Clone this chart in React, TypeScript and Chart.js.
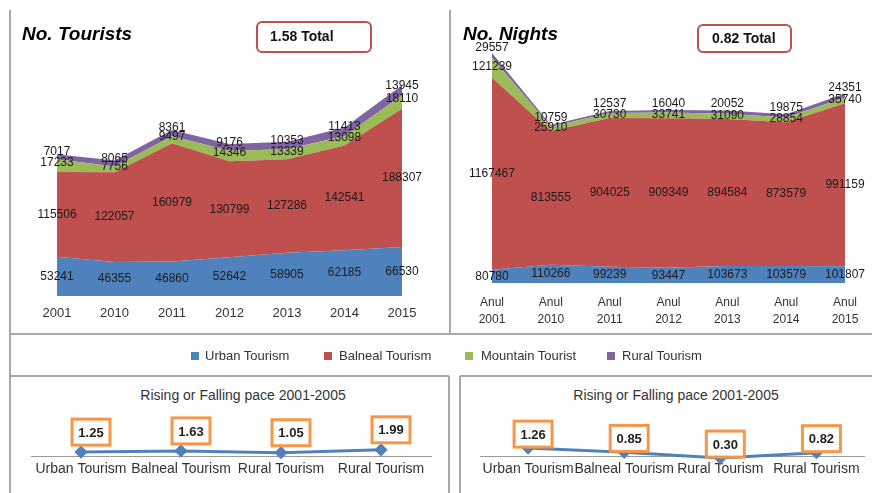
import React, { useEffect, useRef } from 'react';
import { Chart, registerables } from 'chart.js';

Chart.register(...registerables);
Chart.defaults.font.family = '"Liberation Sans", Arial, sans-serif';

// ---------- data ----------
const tourYears = ['2001', '2010', '2011', '2012', '2013', '2014', '2015'];
const nightYears = [
  ['Anul', '2001'], ['Anul', '2010'], ['Anul', '2011'], ['Anul', '2012'],
  ['Anul', '2013'], ['Anul', '2014'], ['Anul', '2015'],
];
const seriesNames = ['Urban Tourism', 'Balneal Tourism', 'Mountain Tourist', 'Rural Tourism'];

const touristsUrban = [53241, 46355, 46860, 52642, 58905, 62185, 66530];
const touristsBalneal = [115506, 122057, 160979, 130799, 127286, 142541, 188307];
const touristsMountain = [17233, 7756, 9497, 14346, 13339, 13098, 18110];
const touristsRural = [7017, 8065, 8361, 9176, 10353, 11413, 13945];

const nightsUrban = [80780, 110266, 99239, 93447, 103673, 103579, 101807];
const nightsBalneal = [1167467, 813555, 904025, 909349, 894584, 873579, 991159];
const nightsMountain = [121239, 25910, 30730, 33741, 31090, 28854, 35740];
const nightsRural = [29557, 10759, 12537, 16040, 20052, 19875, 24351];

const paceCategories = ['Urban Tourism', 'Balneal Tourism', 'Rural Tourism', 'Rural Tourism'];
const paceTourists = [1.25, 1.63, 1.05, 1.99];
const paceNights = [1.26, 0.85, 0.30, 0.82];

const touristsTitle = 'No. Tourists';
const nightsTitle = 'No. Nights';
const touristsTotal = '1.58 Total';
const nightsTotal = '0.82 Total';
const paceTitle = 'Rising or Falling pace 2001-2005';

// ---------- styles ----------
const colors = ['#4F81BD', '#C0504D', '#9BBB59', '#8064A2'];
const FONT = '"Liberation Sans", Arial, sans-serif';
const lineColor = '#a8a8a8';

function segmentLabels(offsets: number[]) {
  return {
    id: 'segLabels',
    afterDatasetsDraw(chart: any) {
      const ctx = chart.ctx;
      const base = chart.scales.y.getPixelForValue(0);
      ctx.save();
      ctx.font = '12px ' + FONT;
      ctx.fillStyle = '#1a1a1a';
      ctx.textAlign = 'center';
      ctx.textBaseline = 'middle';
      chart.data.datasets.forEach((ds: any, i: number) => {
        const meta = chart.getDatasetMeta(i);
        const prev = i > 0 ? chart.getDatasetMeta(i - 1) : null;
        meta.data.forEach((pt: any, j: number) => {
          const bottom = prev ? prev.data[j].y : base;
          const y = (pt.y + bottom) / 2 + offsets[i];
          ctx.fillText(String(ds.data[j]), pt.x, y);
        });
      });
      ctx.restore();
    },
  };
}

function boxLabels(dx: number, dy: number) {
  return {
    id: 'boxLabels',
    afterDatasetsDraw(chart: any) {
      const ctx = chart.ctx;
      ctx.save();
      chart.data.datasets.forEach((ds: any, i: number) => {
        const meta = chart.getDatasetMeta(i);
        meta.data.forEach((pt: any, j: number) => {
          const w = 38, h = 26;
          const cx = pt.x + dx, cy = pt.y + dy;
          ctx.fillStyle = '#ffffff';
          ctx.fillRect(cx - w / 2, cy - h / 2, w, h);
          ctx.strokeStyle = '#F79646';
          ctx.lineWidth = 3;
          ctx.strokeRect(cx - w / 2, cy - h / 2, w, h);
          ctx.fillStyle = '#222';
          ctx.font = 'bold 13px ' + FONT;
          ctx.textAlign = 'center';
          ctx.textBaseline = 'middle';
          ctx.fillText(Number(ds.data[j]).toFixed(2), cx, cy + 1);
        });
      });
      ctx.restore();
    },
  };
}

function areaConfig(labels: any[], series: number[][], max: number, padding: any, tickFont: any, tickPad: number, offsets: number[]) {
  return {
    type: 'line',
    data: {
      labels,
      datasets: series.map((d, i) => ({
        label: seriesNames[i],
        data: d,
        backgroundColor: colors[i],
        borderColor: colors[i],
        borderWidth: 0,
        pointRadius: 0,
        pointHoverRadius: 0,
        fill: i === 0 ? 'origin' : '-1',
        tension: 0,
      })),
    },
    options: {
      responsive: false,
      animation: false,
      layout: { padding },
      plugins: { legend: { display: false }, tooltip: { enabled: false } },
      scales: {
        x: {
          offset: false,
          grid: { display: false, drawTicks: false },
          border: { display: false },
          ticks: { font: tickFont, color: '#333', padding: tickPad, autoSkip: false, maxRotation: 0, minRotation: 0 },
        },
        y: { display: false, stacked: true, min: 0, max },
      },
    },
    plugins: [segmentLabels(offsets)],
  };
}

function paceConfig(values: number[], min: number, max: number, padding: any, dx: number, dy: number) {
  return {
    type: 'line',
    data: {
      labels: paceCategories,
      datasets: [{
        data: values,
        borderColor: '#4F81BD',
        backgroundColor: '#4F81BD',
        borderWidth: 3,
        pointStyle: 'rectRot',
        pointRadius: 4.5,
        pointHoverRadius: 4.5,
        tension: 0,
        clip: false,
      }],
    },
    options: {
      responsive: false,
      animation: false,
      layout: { padding },
      plugins: { legend: { display: false }, tooltip: { enabled: false } },
      scales: {
        x: {
          offset: true,
          grid: { display: false, drawTicks: false },
          border: { display: true, color: '#9a9a9a', width: 1 },
          ticks: { font: { size: 14 }, color: '#333', padding: 4.6, autoSkip: false, maxRotation: 0, minRotation: 0 },
        },
        y: { display: false, min, max },
      },
    },
    plugins: [boxLabels(dx, dy)],
  };
}

function ChartCanvas({ left, top, width, height, build }: any) {
  const ref = useRef<HTMLCanvasElement>(null);
  useEffect(() => {
    const chart = new Chart(ref.current as HTMLCanvasElement, build());
    return () => chart.destroy();
  }, []);
  return (
    <canvas
      ref={ref}
      width={width}
      height={height}
      style={{ position: 'absolute', left, top, width, height }}
    />
  );
}

function Line({ left, top, width, height }: any) {
  return <div style={{ position: 'absolute', left, top, width, height, background: lineColor }} />;
}

export default function App() {
  const legendItems = [
    { sq: 191, tx: 205 },
    { sq: 324, tx: 339 },
    { sq: 465, tx: 481 },
    { sq: 607, tx: 622 },
  ];
  return (
    <div style={{ position: 'fixed', left: 0, top: 0, width: 872, height: 493, background: '#fff', overflow: 'hidden', fontFamily: FONT }}>
      {/* panel borders */}
      <Line left={9} top={10} width={2} height={483} />
      <Line left={449} top={10} width={2} height={324} />
      <Line left={10} top={333} width={862} height={2} />
      <Line left={10} top={375} width={439} height={2} />
      <Line left={460} top={375} width={412} height={2} />
      <Line left={448} top={376} width={2} height={117} />
      <Line left={459} top={376} width={2} height={117} />

      <ChartCanvas
        left={0} top={0} width={450} height={350}
        build={() => areaConfig(
          tourYears,
          [touristsUrban, touristsBalneal, touristsMountain, touristsRural],
          300000,
          { left: 57, right: 48, top: 75.5, bottom: 18.4 },
          { size: 13 }, 10,
          [0, 0, -3, -5],
        )}
      />
      <ChartCanvas
        left={450} top={0} width={422} height={350}
        build={() => areaConfig(
          nightYears,
          [nightsUrban, nightsBalneal, nightsMountain, nightsRural],
          1500000,
          { left: 42, right: 27, top: 36.4, bottom: 10.6 },
          { size: 12, lineHeight: 1.35 }, 12,
          [0, 0, -1, -8],
        )}
      />

      <div style={{ position: 'absolute', left: 22, top: 22, font: 'italic bold 19px ' + FONT, lineHeight: '24px', color: '#000' }}>{touristsTitle}</div>
      <div style={{ position: 'absolute', left: 463, top: 22, font: 'italic bold 19px ' + FONT, lineHeight: '24px', color: '#000' }}>{nightsTitle}</div>

      <div style={{ position: 'absolute', left: 256, top: 21, width: 116, height: 32, boxSizing: 'border-box', border: '2.5px solid #C0504D', borderRadius: 6, background: '#fff', font: 'bold 14px ' + FONT, lineHeight: '27px', paddingLeft: 12, color: '#111' }}>{touristsTotal}</div>
      <div style={{ position: 'absolute', left: 697, top: 24, width: 95, height: 29, boxSizing: 'border-box', border: '2.5px solid #C0504D', borderRadius: 6, background: '#fff', font: 'bold 14px ' + FONT, lineHeight: '24px', paddingLeft: 13, color: '#111' }}>{nightsTotal}</div>

      {/* legend */}
      {legendItems.map((it, i) => (
        <React.Fragment key={i}>
          <div style={{ position: 'absolute', left: it.sq, top: 352, width: 8, height: 8, background: colors[i] }} />
          <div style={{ position: 'absolute', left: it.tx, top: 347, font: '13px ' + FONT, lineHeight: '18px', color: '#333', whiteSpace: 'nowrap' }}>{seriesNames[i]}</div>
        </React.Fragment>
      ))}

      {/* bottom titles */}
      <div style={{ position: 'absolute', left: 93, top: 386, width: 300, textAlign: 'center', font: '14px ' + FONT, lineHeight: '18px', color: '#333' }}>{paceTitle}</div>
      <div style={{ position: 'absolute', left: 526, top: 386, width: 300, textAlign: 'center', font: '14px ' + FONT, lineHeight: '18px', color: '#333' }}>{paceTitle}</div>

      <ChartCanvas
        left={0} top={376} width={449} height={117}
        build={() => paceConfig(paceTourists, 0, 18, { left: 31, right: 18, top: 24, bottom: 11 }, 10, -20)}
      />
      <ChartCanvas
        left={460} top={376} width={412} height={117}
        build={() => paceConfig(paceNights, 0.5, 5.9, { left: 20, right: 6, top: 24, bottom: 11 }, 5, -14)}
      />
    </div>
  );
}
